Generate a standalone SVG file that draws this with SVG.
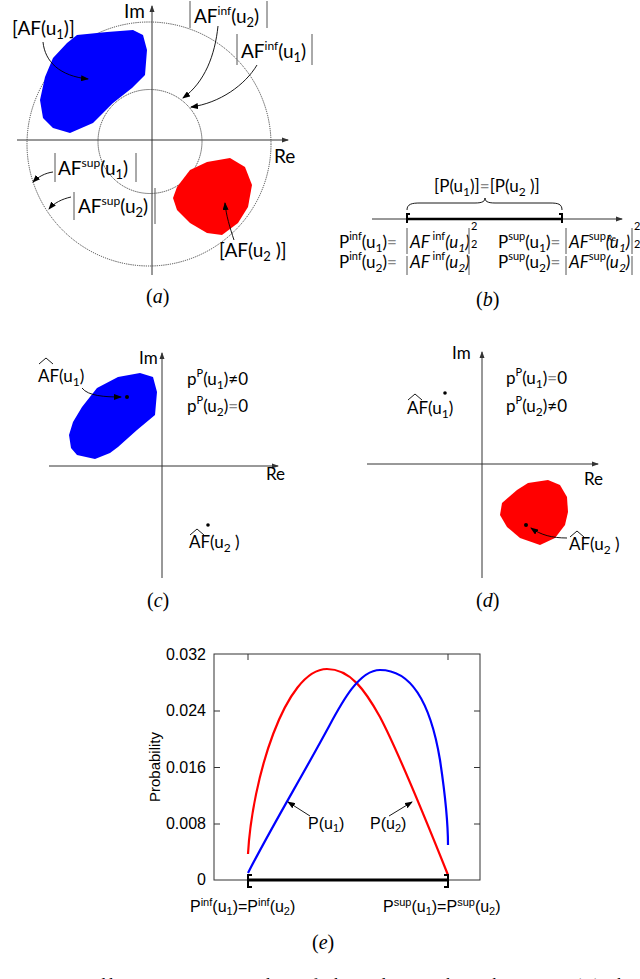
<svg xmlns="http://www.w3.org/2000/svg" width="640" height="979" viewBox="0 0 640 979">
<style>
.t{font-family:Lato,"Liberation Sans",sans-serif;font-size:19px;fill:#000}
.tb{font-family:Lato,"Liberation Sans",sans-serif;font-size:17px;fill:#000}
.sm{font-family:Lato,"Liberation Sans",sans-serif;font-size:11px;fill:#000}
.it{font-style:italic}
.pl{font-family:"Liberation Sans",Arial,sans-serif;font-size:16px;fill:#000}
.cap{font-family:"Liberation Serif","Times New Roman",serif;font-size:20px;fill:#000}
.ax{stroke:#333;stroke-width:1;fill:none}
.bar{stroke:#555;stroke-width:1;fill:none}
.ln{stroke:#000;stroke-width:0.9;fill:none}
.hat{stroke:#000;stroke-width:0.9;fill:none}
.g{fill:#888}
</style>
<defs>
<marker id="ah" markerWidth="8" markerHeight="6" refX="7" refY="3" orient="auto" markerUnits="userSpaceOnUse">
<path d="M0,0 L8,3 L0,6 Z" fill="#000"/>
</marker>
<marker id="axa" markerWidth="7" markerHeight="6" refX="6" refY="3" orient="auto" markerUnits="userSpaceOnUse">
<path d="M0,0.5 L7,3 L0,5.5 Z" fill="#333"/>
</marker>
</defs>

<rect width="640" height="979" fill="#fff"/>

<!-- Panel (a) -->
<g id="panel-a">
  <g id="a-axes">
    <line class="ax" x1="17" y1="140" x2="288" y2="140" marker-end="url(#axa)"/>
    <line class="ax" x1="152" y1="275" x2="152" y2="6" marker-end="url(#axa)"/>
  </g>
  <g id="a-outer-circle"><circle cx="149" cy="144" r="122" fill="none" stroke="#444" stroke-width="1" stroke-dasharray="1.2,1"/></g>
  <g id="a-inner-circle"><circle cx="150" cy="141.5" r="52" fill="none" stroke="#444" stroke-width="1" stroke-dasharray="1.2,0.8"/></g>
  <g id="a-blue"><polygon fill="#0000ff" points="67,43 77,35 107,32 133,30 143,35 147,50 145,75 132,88 113,103 93,123 70,133 53,128 43,118 40,100 45,77 53,58"/></g>
  <g id="a-red"><polygon fill="#ff0000" points="177,187 190,170 207,162 230,158 245,167 252,185 248,207 238,223 222,235 207,233 190,223 177,210 173,198"/></g>
  <text class="t" x="124" y="18">Im</text>
  <text class="t" x="274" y="163">Re</text>
  <g id="a-lbl-AFu1">
    <text class="t" x="12" y="35">[AF(u<tspan font-size="13" dy="4">1</tspan><tspan dy="-4">)]</tspan></text>
  </g>
  <g id="a-lbl-AFinf-u2">
    <line class="bar" x1="190" y1="1" x2="190" y2="28"/>
    <line class="bar" x1="267" y1="1" x2="267" y2="28"/>
    <text class="t" x="194" y="23">AF<tspan font-size="12" dy="-8">inf</tspan><tspan dy="8">(u</tspan><tspan font-size="13" dy="4">2</tspan><tspan dy="-4">)</tspan></text>
  </g>
  <g id="a-lbl-AFinf-u1">
    <line class="bar" x1="237" y1="34" x2="237" y2="65"/>
    <line class="bar" x1="312" y1="34" x2="312" y2="65"/>
    <text class="t" x="241" y="58">AF<tspan font-size="12" dy="-8">inf</tspan><tspan dy="8">(u</tspan><tspan font-size="13" dy="4">1</tspan><tspan dy="-4">)</tspan></text>
  </g>
  <g id="a-lbl-AFsup-u1">
    <line class="bar" x1="55" y1="153" x2="55" y2="182"/>
    <line class="bar" x1="136" y1="153" x2="136" y2="182"/>
    <text class="t" x="58" y="175">AF<tspan font-size="12" dy="-8">sup</tspan><tspan dy="8">(u</tspan><tspan font-size="13" dy="4">1</tspan><tspan dy="-4">)</tspan></text>
  </g>
  <g id="a-lbl-AFsup-u2">
    <line class="bar" x1="74" y1="192" x2="74" y2="220"/>
    <line class="bar" x1="155" y1="188" x2="155" y2="224"/>
    <text class="t" x="78" y="213">AF<tspan font-size="12" dy="-8">sup</tspan><tspan dy="8">(u</tspan><tspan font-size="13" dy="4">2</tspan><tspan dy="-4">)</tspan></text>
  </g>
  <g id="a-lbl-AFu2">
    <text class="t" x="219" y="257">[AF(u<tspan font-size="13" dy="4">2</tspan><tspan dy="-4"> )]</tspan></text>
  </g>
  <g id="a-connectors">
    <path class="ln" d="M43,42 C45,62 60,76 88,79" marker-end="url(#ah)"/>
    <path class="ln" d="M218,26 C215,55 205,82 183,98" marker-end="url(#ah)"/>
    <path class="ln" d="M257,65 C245,85 220,103 191,107" marker-end="url(#ah)"/>
    <path class="ln" d="M53,172 C45,173 38,177 33,182" marker-end="url(#ah)"/>
    <path class="ln" d="M71,197 C62,199 54,203 49,209" marker-end="url(#ah)"/>
    <path class="ln" d="M234,240 C230,228 226,215 225,203" marker-end="url(#ah)"/>
  </g>
  <text class="cap" x="146" y="303">(<tspan font-style="italic">a</tspan>)</text>
</g>

<!-- Panel (b) -->
<g id="panel-b">
  <text class="tb" x="434" y="192">[P(u<tspan font-size="12" dy="4">1</tspan><tspan dy="-4">)]</tspan><tspan class="g">=</tspan>[P(u<tspan font-size="12" dy="4">2</tspan><tspan dy="-4"> )]</tspan></text>
  <path class="ln" stroke="#666" d="M407,210 C407,204 412,203 420,203 L475,203 C483,203 485,201 485,198 C485,201 487,203 495,203 L550,203 C558,203 562,204 562,210"/>
  <line class="ax" x1="372" y1="219" x2="622" y2="219" marker-end="url(#axa)"/>
  <line x1="407" y1="219" x2="562" y2="219" stroke="#000" stroke-width="2.5"/>
  <path d="M410,214 L407,214 L407,223" stroke="#000" stroke-width="2" fill="none"/>
  <path d="M559,214 L562,214 L562,223" stroke="#000" stroke-width="2" fill="none"/>
  <g id="b-row1">
    <text class="tb" x="339" y="248">P<tspan font-size="11" dy="-8">inf</tspan><tspan dy="8">(u</tspan><tspan font-size="12" dy="4">1</tspan><tspan dy="-4">)</tspan><tspan class="g">=</tspan></text>
    <line class="bar" x1="407" y1="228" x2="407" y2="254"/>
    <text class="tb it" x="410" y="248">AF<tspan font-size="11" dy="-8" font-style="normal"> inf</tspan><tspan dy="8">(u</tspan><tspan font-size="12" dy="4">1</tspan><tspan dy="-4">)</tspan></text>
    <line class="bar" x1="469" y1="228" x2="469" y2="254"/>
    <text class="sm" x="471" y="230">2</text>
    <text class="tb" x="498" y="248">P<tspan font-size="11" dy="-8">sup</tspan><tspan dy="8">(u</tspan><tspan font-size="12" dy="4">1</tspan><tspan dy="-4">)</tspan><tspan class="g">=</tspan></text>
    <line class="bar" x1="566" y1="228" x2="566" y2="254"/>
    <text class="tb it" x="569" y="248">AF<tspan font-size="11" dy="-8" font-style="normal">sup</tspan><tspan dy="8">(u</tspan><tspan font-size="12" dy="4">1</tspan><tspan dy="-4">)</tspan></text>
    <text class="sm" x="607" y="241" style="font-size:8px">Re</text>
    <line class="bar" x1="632" y1="228" x2="632" y2="254"/>
    <text class="sm" x="634" y="230">2</text>
  </g>
  <g id="b-row2">
    <text class="tb" x="339" y="268">P<tspan font-size="11" dy="-8">inf</tspan><tspan dy="8">(u</tspan><tspan font-size="12" dy="4">2</tspan><tspan dy="-4">)</tspan><tspan class="g">=</tspan></text>
    <line class="bar" x1="407" y1="256" x2="407" y2="275"/>
    <text class="tb it" x="410" y="268">AF<tspan font-size="11" dy="-8" font-style="normal"> inf</tspan><tspan dy="8">(u</tspan><tspan font-size="12" dy="4">2</tspan><tspan dy="-4">)</tspan></text>
    <line class="bar" x1="469" y1="256" x2="469" y2="275"/>
    <text class="sm" x="471" y="248">2</text>
    <text class="tb" x="498" y="268">P<tspan font-size="11" dy="-8">sup</tspan><tspan dy="8">(u</tspan><tspan font-size="12" dy="4">2</tspan><tspan dy="-4">)</tspan><tspan class="g">=</tspan></text>
    <line class="bar" x1="566" y1="256" x2="566" y2="275"/>
    <text class="tb it" x="569" y="268">AF<tspan font-size="11" dy="-8" font-style="normal">sup</tspan><tspan dy="8">(u</tspan><tspan font-size="12" dy="4">2</tspan><tspan dy="-4">)</tspan></text>
    <line class="bar" x1="632" y1="256" x2="632" y2="275"/>
    <text class="sm" x="634" y="248">2</text>
  </g>
  <text class="cap" x="476" y="306">(<tspan font-style="italic">b</tspan>)</text>
</g>

<!-- Panel (c) -->
<g id="panel-c">
  <g id="c-axes">
    <line class="ax" x1="49" y1="466" x2="278" y2="466" marker-end="url(#axa)"/>
    <line class="ax" x1="162" y1="578" x2="162" y2="353" marker-end="url(#axa)"/>
  </g>
  <g id="c-blue"><polygon fill="#0000ff" points="97,388 118,377 140,373 153,377 157,392 155,415 137,430 118,447 110,453 95,459 77,455 71,448 69,435 73,422 82,407"/></g>
  <text class="tb" x="139" y="364">Im</text>
  <text class="tb" x="266" y="480">Re</text>
  <g id="c-lbl-u1">
    <polyline class="hat" points="39,364 46,358 53,364"/>
    <text class="tb" x="38" y="382">AF(u<tspan font-size="12" dy="4">1</tspan><tspan dy="-4">)</tspan></text>
  </g>
  <path class="ln" d="M82,388 C88,396 105,397 121,397" marker-end="url(#ah)"/>
  <circle cx="127" cy="397" r="2" fill="#000"/>
  <text class="tb" x="187" y="385">p<tspan font-size="11" dy="-8">P</tspan><tspan dy="8">(u</tspan><tspan font-size="12" dy="4">1</tspan><tspan dy="-4">)≠0</tspan></text>
  <text class="tb" x="187" y="412">p<tspan font-size="11" dy="-8">P</tspan><tspan dy="8">(u</tspan><tspan font-size="12" dy="4">2</tspan><tspan dy="-4">)</tspan><tspan class="g">=</tspan>0</text>
  <g id="c-lbl-u2">
    <circle cx="208" cy="525" r="1.8" fill="#000"/>
    <polyline class="hat" points="190,535 197,529 204,535"/>
    <text class="tb" x="189" y="548">AF(u<tspan font-size="12" dy="4">2</tspan><tspan dy="-4"> )</tspan></text>
  </g>
  <text class="cap" x="147" y="607">(<tspan font-style="italic">c</tspan>)</text>
</g>

<!-- Panel (d) -->
<g id="panel-d">
  <g id="d-axes">
    <line class="ax" x1="367" y1="464" x2="598" y2="464" marker-end="url(#axa)"/>
    <line class="ax" x1="482" y1="578" x2="482" y2="352" marker-end="url(#axa)"/>
  </g>
  <g id="d-red"><polygon fill="#ff0000" points="502,503 517,490 528,483 548,480 560,485 567,497 568,512 565,525 555,538 540,545 520,538 507,527 500,515"/></g>
  <text class="tb" x="452" y="359">Im</text>
  <text class="tb" x="584" y="485">Re</text>
  <text class="tb" x="506" y="384">p<tspan font-size="11" dy="-8">P</tspan><tspan dy="8">(u</tspan><tspan font-size="12" dy="4">1</tspan><tspan dy="-4">)</tspan><tspan class="g">=</tspan>0</text>
  <text class="tb" x="506" y="412">p<tspan font-size="11" dy="-8">P</tspan><tspan dy="8">(u</tspan><tspan font-size="12" dy="4">2</tspan><tspan dy="-4">)≠0</tspan></text>
  <g id="d-lbl-u1">
    <circle cx="445" cy="393" r="1.8" fill="#000"/>
    <polyline class="hat" points="408,400 415,394 422,400"/>
    <text class="tb" x="407" y="414">AF(u<tspan font-size="12" dy="4">1</tspan><tspan dy="-4">)</tspan></text>
  </g>
  <circle cx="526" cy="525" r="2" fill="#000"/>
  <path class="ln" d="M567,538 C552,538 541,535 531,528" marker-end="url(#ah)"/>
  <g id="d-lbl-u2">
    <polyline class="hat" points="570,537 577,531 584,537"/>
    <text class="tb" x="569" y="550">AF(u<tspan font-size="12" dy="4">2</tspan><tspan dy="-4"> )</tspan></text>
  </g>
  <text class="cap" x="476" y="607">(<tspan font-style="italic">d</tspan>)</text>
</g>

<!-- Panel (e) -->
<g id="panel-e">
  <rect x="214" y="654" width="266" height="226" fill="none" stroke="#333" stroke-width="1"/>
  <g id="e-ticks" stroke="#333" stroke-width="1">
    <line x1="214" y1="711" x2="220" y2="711"/>
    <line x1="214" y1="767.5" x2="220" y2="767.5"/>
    <line x1="214" y1="824" x2="220" y2="824"/>
    <line x1="474" y1="711" x2="480" y2="711"/>
    <line x1="474" y1="767.5" x2="480" y2="767.5"/>
    <line x1="474" y1="824" x2="480" y2="824"/>
    <line x1="248" y1="654" x2="248" y2="660"/>
    <line x1="448" y1="654" x2="448" y2="660"/>
  </g>
  <g id="e-ylabels">
    <text class="pl" x="206" y="660" text-anchor="end">0.032</text>
    <text class="pl" x="206" y="716" text-anchor="end">0.024</text>
    <text class="pl" x="206" y="773" text-anchor="end">0.016</text>
    <text class="pl" x="206" y="829" text-anchor="end">0.008</text>
    <text class="pl" x="206" y="885" text-anchor="end">0</text>
  </g>
  <text class="pl" style="font-size:15px" transform="translate(160,767) rotate(-90)" text-anchor="middle">Probability</text>
  <path id="e-red" d="M248,854 C252,780 285,669 327,669 C350,669 365,690 380,717 C400,755 430,830 448,875" fill="none" stroke="#ff0000" stroke-width="2.2"/>
  <path id="e-blue" d="M248,873 C272,826 300,780 327,730 C340,706 358,670 380,670 C410,670 430,700 440,760 C446,800 448,830 448,845" fill="none" stroke="#0000ff" stroke-width="2.2"/>
  <line x1="248" y1="880" x2="448" y2="880" stroke="#000" stroke-width="3"/>
  <path d="M252,875 L248,875 L248,887 L252,887" stroke="#000" stroke-width="2" fill="none"/>
  <path d="M444,875 L448,875 L448,887 L444,887" stroke="#000" stroke-width="2" fill="none"/>
  <g id="e-lbl">
    <line class="ln" x1="310" y1="816" x2="288" y2="802" marker-end="url(#ah)"/>
    <line class="ln" x1="389" y1="816" x2="412" y2="802" marker-end="url(#ah)"/>
    <text class="pl" x="308" y="829">P(u<tspan font-size="11" dy="3">1</tspan><tspan dy="-3">)</tspan></text>
    <text class="pl" x="370" y="829">P(u<tspan font-size="11" dy="3">2</tspan><tspan dy="-3">)</tspan></text>
  </g>
  <text class="pl" x="190" y="912">P<tspan font-size="11" dy="-6">inf</tspan><tspan dy="6">(u</tspan><tspan font-size="11" dy="3">1</tspan><tspan dy="-3">)=P</tspan><tspan font-size="11" dy="-6">inf</tspan><tspan dy="6">(u</tspan><tspan font-size="11" dy="3">2</tspan><tspan dy="-3">)</tspan></text>
  <text class="pl" x="383" y="912">P<tspan font-size="11" dy="-6">sup</tspan><tspan dy="6">(u</tspan><tspan font-size="11" dy="3">1</tspan><tspan dy="-3">)=P</tspan><tspan font-size="11" dy="-6">sup</tspan><tspan dy="6">(u</tspan><tspan font-size="11" dy="3">2</tspan><tspan dy="-3">)</tspan></text>
  <text class="cap" x="312" y="949">(<tspan font-style="italic">e</tspan>)</text>
</g>

<text class="cap" x="0" y="990" style="font-size:17px" textLength="636" lengthAdjust="spacing">Figure 4.   Illustrative examples of the relationships between (a) the</text>
</svg>
